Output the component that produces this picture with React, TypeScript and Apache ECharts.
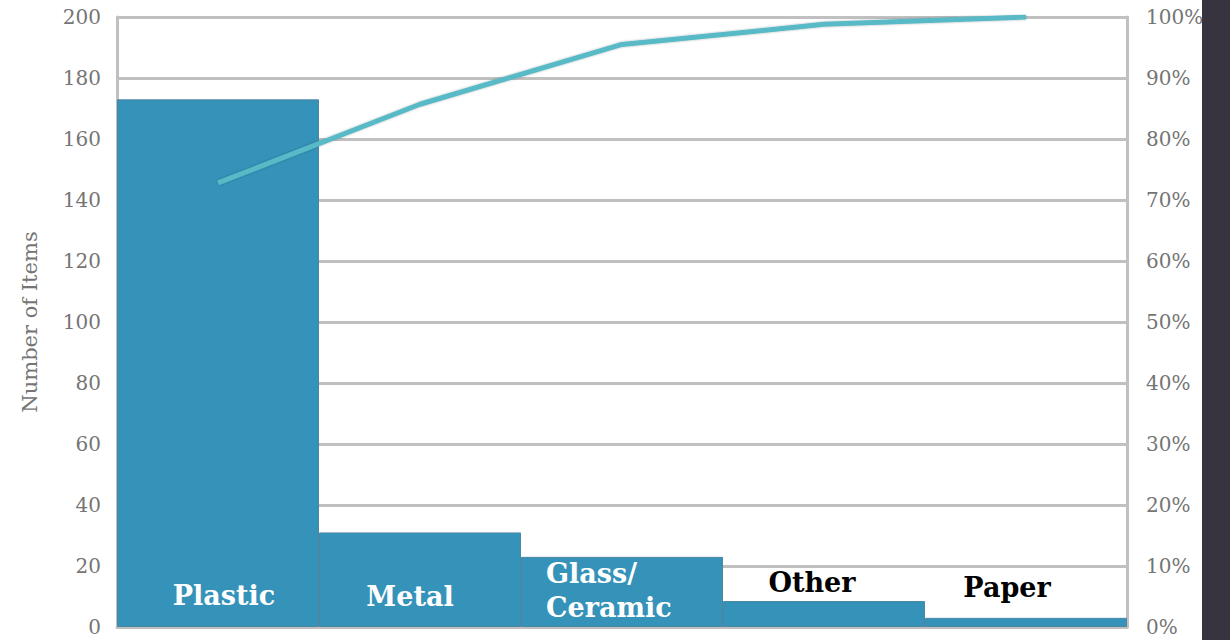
import React, { useEffect, useRef } from "react";
import * as echarts from "echarts";

const categories = ["Plastic", "Metal", "Glass/\nCeramic", "Other", "Paper"];
const itemCounts = [173, 31, 23, 8.5, 3];
const cumulativePct = [72.8, 85.7, 95.5, 98.8, 100];
const leftTicks = { min: 0, max: 200, interval: 20 };
const rightTicks = { min: 0, max: 100, interval: 10 };

const labelStyles = [
  { color: "#ffffff", distance: 15, offset: [6, 0], align: "center" },
  { color: "#ffffff", distance: 14, offset: [-10, 0], align: "center" },
  { color: "#ffffff", distance: 3, offset: [-76, 0], align: "left" },
  { color: "#000000", distance: 28, offset: [-12, 0], align: "center" },
  { color: "#000000", distance: 23, offset: [-19, 0], align: "center" },
];

const SERIF = "'DejaVu Serif', 'Liberation Serif', serif";
const GRAY_TEXT = "#757575";
const GRID_GRAY = "#c0c0c0";

export default function App() {
  const ref = useRef<HTMLDivElement>(null);
  useEffect(() => {
    if (!ref.current) return;
    const chart = echarts.init(ref.current, null, { renderer: "svg" });
    chart.setOption({
      animation: false,
      backgroundColor: "#ffffff",
      grid: { left: 117, right: 103, top: 17, bottom: 13, containLabel: false },
      xAxis: {
        type: "category",
        data: categories,
        axisLine: { show: true, lineStyle: { color: GRID_GRAY, width: 3 } },
        axisTick: { show: false },
        axisLabel: { show: false },
      },
      yAxis: [
        {
          type: "value",
          min: leftTicks.min,
          max: leftTicks.max,
          interval: leftTicks.interval,
          name: "Number of Items",
          nameLocation: "middle",
          nameGap: 77,
          nameRotate: 90,
          nameTextStyle: { color: GRAY_TEXT, fontSize: 21, fontFamily: SERIF },
          axisLine: { show: true, lineStyle: { color: GRID_GRAY, width: 3 } },
          axisTick: { show: false },
          axisLabel: { color: GRAY_TEXT, fontSize: 20, fontFamily: SERIF, margin: 16 },
          splitLine: { show: true, lineStyle: { color: GRID_GRAY, width: 3 } },
        },
        {
          type: "value",
          min: rightTicks.min,
          max: rightTicks.max,
          interval: rightTicks.interval,
          position: "right",
          axisLine: { show: true, lineStyle: { color: GRID_GRAY, width: 3 } },
          axisTick: { show: false },
          axisLabel: {
            color: GRAY_TEXT,
            fontSize: 20,
            fontFamily: SERIF,
            margin: 19,
            formatter: (v: number) => `${v}%`,
          },
          splitLine: { show: false },
        },
      ],
      series: [
        {
          type: "bar",
          yAxisIndex: 0,
          barCategoryGap: "0%",
          itemStyle: { color: "#3592b9", borderColor: "#4a87a3", borderWidth: 1 },
          data: itemCounts.map((v, i) => ({
            value: v,
            label: {
              show: true,
              position: "insideBottom",
              formatter: categories[i],
              color: labelStyles[i].color,
              distance: labelStyles[i].distance,
              offset: labelStyles[i].offset,
              align: labelStyles[i].align,
              fontFamily: SERIF,
              fontWeight: "bold",
              fontSize: 27,
              lineHeight: 34,
            },
          })),
        },
        {
          type: "line",
          yAxisIndex: 1,
          data: cumulativePct,
          symbol: "none",
          lineStyle: {
            color: "#58bac6",
            width: 5,
            shadowColor: "rgba(0,0,0,0.3)",
            shadowBlur: 2,
          },
          z: 5,
        },
      ],
      graphic: [
        {
          type: "rect",
          right: 0,
          top: 0,
          shape: { width: 28, height: 640 },
          style: { fill: "#37343f" },
          z: 100,
        },
      ],
    });
    return () => chart.dispose();
  }, []);
  return (
    <div
      ref={ref}
      style={{ position: "fixed", left: 0, top: 0, width: 1230, height: 640 }}
    />
  );
}
